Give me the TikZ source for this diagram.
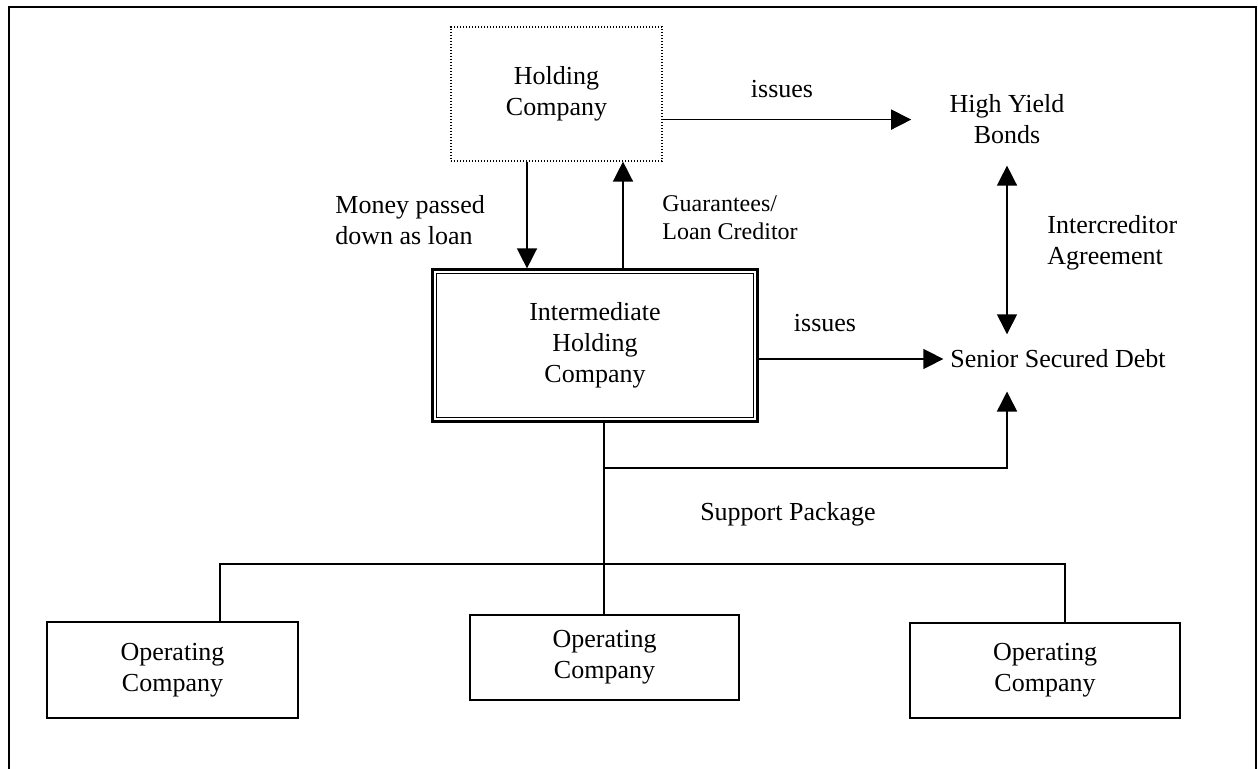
\documentclass[tikz,border=0pt]{standalone}
\usepackage{fontspec}
\setmainfont{Liberation Serif}
\usetikzlibrary{arrows.meta}

\begin{document}
\begin{tikzpicture}[x=0.5pt,y=-0.5pt,
    every node/.style={font=\fontsize{13pt}{15.5pt}\selectfont},
    holdbox/.style={draw=black,dash pattern=on 0.6pt off 0.9pt,line width=0.6pt,
                    align=center,minimum width=105.5pt,minimum height=67pt},
    midbox/.style={draw=black,line width=1.1pt,align=center,
                   minimum width=162.5pt,minimum height=76pt},
    opbox/.style={draw=black,line width=0.75pt,align=center},
    txt/.style={align=center},
    lbl/.style={inner sep=0pt,align=left},
    wire/.style={draw=black,line width=0.75pt},
    flow/.style={wire,-{Triangle[length=10pt,width=10pt]}},
    twoway/.style={wire,{Triangle[length=10pt,width=10pt]}-{Triangle[length=10pt,width=10pt]}}
  ]
    \useasboundingbox (0,0) rectangle (1258,769);

    \node[holdbox] (hold) at (556.5,94) {Holding\\Company};
    \node[midbox] (inter) at (595,345.5) {Intermediate\\Holding\\Company};
    \draw[line width=0.7pt] ([shift={(2.6pt,-2.6pt)}]inter.north west)
      rectangle ([shift={(-2.6pt,2.6pt)}]inter.south east);
    \node[txt] (bonds) at (1007,119.6) {High Yield\\Bonds};
    \node[txt] (senior) at (1058,359) {Senior Secured Debt};
    \node[opbox,minimum width=125.5pt,minimum height=48pt] (opl) at (172.5,670) {Operating\\Company};
    \node[opbox,minimum width=134.5pt,minimum height=42.5pt] (opm) at (604.5,657.5) {Operating\\Company};
    \node[opbox,minimum width=135pt,minimum height=47.5pt] (opr) at (1045,670.5) {Operating\\Company};

    \node[lbl,anchor=north west] (money) at (335,195) {Money passed\\down as loan};
    \node[lbl,anchor=north west,font=\fontsize{12pt}{14pt}\selectfont] (guar) at (662,195)
      {Guarantees/\\Loan Creditor};
    \node[lbl,anchor=north west] (icred) at (1047,215) {Intercreditor\\Agreement};
    \node[anchor=base] (iss1) at (782,98) {issues};
    \node[anchor=base] (iss2) at (825,332) {issues};
    \node[anchor=base] (supp) at (788,521) {Support Package};

    \coordinate (split) at (604,468);
    \coordinate (bus) at (604,564);

    \draw[wire] (9,800) -- (9,7) -- (1256,7) -- (1256,800);
    \draw[wire,line width=1.1pt] (9,7) -- (1256,7);

    \draw[flow,shorten >=15.65pt] (hold.east |- bonds.west) -- (bonds.west);
    \draw[flow] ([xshift=-14.75pt]hold.south) -- ([xshift=-14.75pt]hold.south |- inter.north);
    \draw[flow] ([xshift=14pt]inter.north) -- ([xshift=14pt]inter.north |- hold.south);
    \draw[flow] (inter.east |- senior.west) -- (senior.west);
    \draw[twoway,shorten <=7.15pt,shorten >=4.25pt] (bonds.south) -- (bonds.south |- senior.north);

    \draw[wire] (split |- inter.south) -- (bus);
    \draw[flow,shorten >=8.15pt] (split) -| (bonds.south |- senior.south);
    \draw[wire] ([xshift=23.75pt]opl.north) |- (bus) -| ([xshift=10pt]opr.north);
    \draw[wire] (bus) -- (bus |- opm.north);
  \end{tikzpicture}
\end{document}
